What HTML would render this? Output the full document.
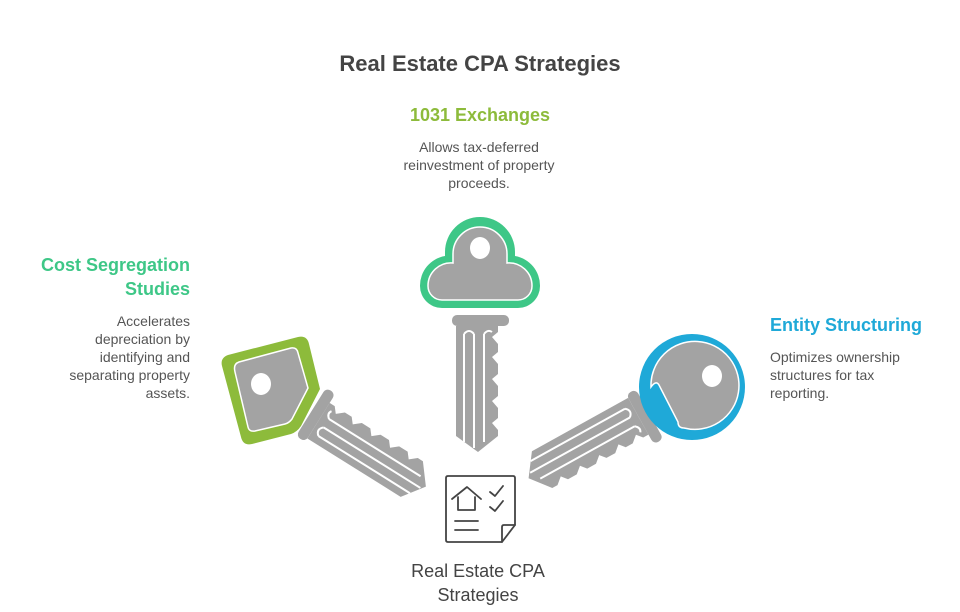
<!DOCTYPE html>
<html><head><meta charset="utf-8"><style>
body{margin:0;background:#fff;}
svg{display:block;font-family:"Liberation Sans",sans-serif;}
</style></head><body>
<svg width="960" height="612" viewBox="0 0 960 612">
<defs>
<g id="blade">
  <rect x="-28" y="-5" width="57" height="11" rx="5" fill="#a3a3a3"/>
  <path d="M-24 6 H18 V12 L12 17 L18 24 V32 L12 37 L18 44 V54 L12 59 L18 66 V76 L12 81 L18 88 V98 L12 103 L18 110 V116 L-2 132 L-24 116 Z" fill="#a3a3a3"/>
  <path d="M-16 14 V122 M-6 14 V128 M4 14 V122" stroke="#fff" stroke-width="2" fill="none"/>
  <path d="M-16 14 Q-11 8 -6 14 M4 14 Q8 9 12 12" stroke="#fff" stroke-width="2" fill="none"/>
</g>
</defs>
<text x="480" y="71" text-anchor="middle" font-size="22" font-weight="bold" fill="#444">Real Estate CPA Strategies</text>
<text x="480" y="121" text-anchor="middle" font-size="18" font-weight="bold" fill="#8dbb3b">1031 Exchanges</text>
<g font-size="14" fill="#555" text-anchor="middle">
<text x="479" y="152">Allows tax-deferred</text>
<text x="479" y="170">reinvestment of property</text>
<text x="479" y="188">proceeds.</text>
</g>
<g font-size="18" font-weight="bold" fill="#3ec787" text-anchor="end">
<text x="190" y="271">Cost Segregation</text>
<text x="190" y="295">Studies</text>
</g>
<g font-size="14" fill="#555" text-anchor="end">
<text x="190" y="326">Accelerates</text>
<text x="190" y="344">depreciation by</text>
<text x="190" y="362">identifying and</text>
<text x="190" y="380">separating property</text>
<text x="190" y="398">assets.</text>
</g>
<text x="770" y="331" font-size="18" font-weight="bold" fill="#1fa9d8">Entity Structuring</text>
<g font-size="14" fill="#555">
<text x="770" y="362">Optimizes ownership</text>
<text x="770" y="380">structures for tax</text>
<text x="770" y="398">reporting.</text>
</g>

<!-- vertical key -->
<use href="#blade" transform="translate(480,320)"/>
<path d="M445 252 A35 35 0 0 1 515 252 V256 A30 30 0 0 1 540 286 A22 22 0 0 1 518 308 H442 A22 22 0 0 1 420 286 A30 30 0 0 1 445 256 Z" fill="#3ec787"/>
<path d="M453 254 A27 27 0 0 1 507 254 V263 A23 23 0 0 1 532 286 A14 14 0 0 1 518 300 H442 A14 14 0 0 1 428 286 A23 23 0 0 1 453 263 Z" fill="#a3a3a3" stroke="#fff" stroke-width="1.5"/>
<ellipse cx="480" cy="248" rx="10" ry="11" fill="#fff"/>

<!-- left key -->
<use href="#blade" transform="translate(315,415) rotate(-58)"/>
<path d="M228 355 L298 337 Q307 335 309 344 L320 389 L301 426 Q297 432 291 434 L252 444 Q243 446 241 437 L222 366 Q220 358 228 355 Z" fill="#8dbb3b"/>
<path d="M239 362 L291 348 Q297 347 298 353 L308 388 L292 419 Q289 423 285 424 L255 431 Q249 432 248 427 L235 372 Q233 364 239 362 Z" fill="#a3a3a3" stroke="#fff" stroke-width="1.5"/>
<ellipse cx="261" cy="384" rx="10" ry="11" fill="#fff"/>

<!-- right key -->
<use href="#blade" transform="translate(645,416) rotate(61)"/>
<circle cx="692" cy="387" r="53" fill="#1fa9d8"/>
<path d="M651 387 A44 44 0 1 1 684 428 Q678 428 678 422 L659 385 Q656 380 651 387 Z" fill="#a3a3a3" stroke="#fff" stroke-width="1.5"/>
<ellipse cx="712" cy="376" rx="10" ry="11" fill="#fff"/>

<!-- doc icon -->
<g fill="none" stroke="#444" stroke-width="1.8" stroke-linejoin="round" stroke-linecap="round">
<path d="M448 476 H513 Q515 476 515 478 V525 L502 542 H448 Q446 542 446 540 V478 Q446 476 448 476 Z"/>
<path d="M515 525 H504 Q502 525 502 527 V542"/>
<path d="M452 499 L467 487 L481 499 M458 497 V510 H475 V497"/>
<path d="M490 492 L495 496 L503 486 M490 507 L495 511 L503 501"/>
<path d="M455 521 H478 M455 530 H478"/>
</g>
<text x="478" y="577" text-anchor="middle" font-size="18" fill="#444">Real Estate CPA</text>
<text x="478" y="601" text-anchor="middle" font-size="18" fill="#444">Strategies</text>
</svg>
</body></html>
